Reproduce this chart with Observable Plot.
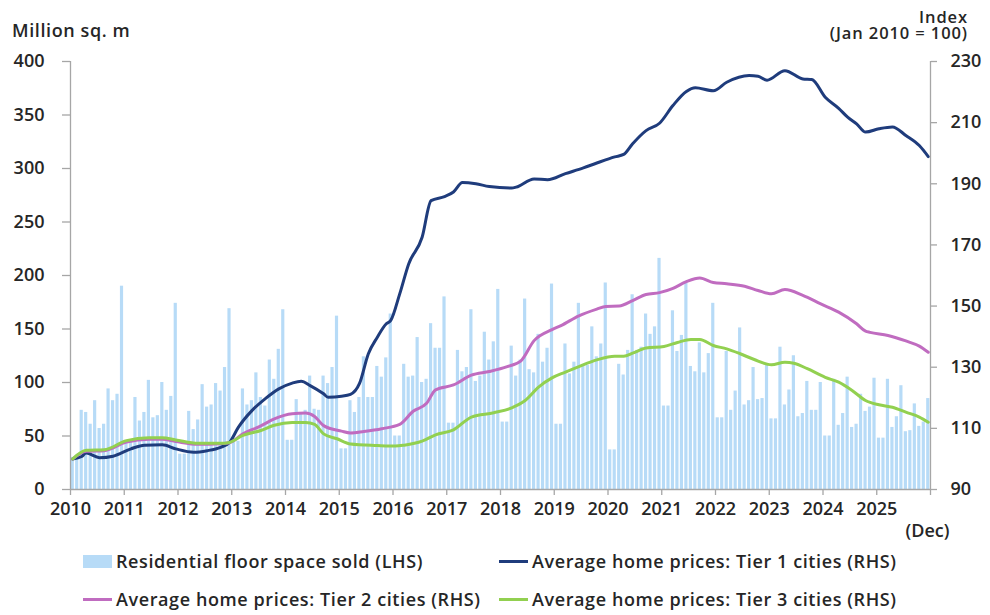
<!DOCTYPE html>
<html><head><meta charset="utf-8">
<script src="https://cdn.jsdelivr.net/npm/d3@7"></script>
<script src="https://cdn.jsdelivr.net/npm/@observablehq/plot@0.6"></script>
<style>
body{margin:0;background:#fff;font-family:"Open Sans",sans-serif;font-weight:600;color:#262626;}
#wrap{position:relative;width:990px;height:615px;overflow:hidden;}
.hdr{position:relative;height:44px;font-size:18px;letter-spacing:0.6px;}
#lhs{position:absolute;left:12px;top:18px;line-height:24px;}
#rhs{position:absolute;right:22px;top:9px;text-align:right;line-height:15.5px;white-space:pre;font-size:16.5px;letter-spacing:0.9px;}
#chart svg{display:block;}
.legend{position:relative;height:71px;font-size:18px;letter-spacing:0.6px;}
.item{position:absolute;display:flex;align-items:center;height:24px;white-space:nowrap;}
.sw{display:inline-block;width:29px;margin-right:4px;}
</style></head><body>
<div id="wrap">
  <div class="hdr">
    <div id="lhs">Million sq. m</div>
    <div id="rhs"></div>
  </div>
  <div id="chart"></div>
  <div class="legend" id="legend"></div>
</div>
<script>
// Residential floor space sold, million sq. m, monthly Jan..Dec
const sold2010 = [30,30,74,72,61,83,57,61,94,83,89,190];
const sold2011 = [45,45,86,64,72,102,67,69,100,74,87,174];
const sold2012 = [33,33,73,56,65,98,77,79,99,92,114,169];
const sold2013 = [45,45,94,79,83,109,86,78,121,103,131,168];
const sold2014 = [46,46,84,71,74,106,75,74,106,99,114,162];
const sold2015 = [38,38,83,72,86,124,86,86,115,105,123,164];
const sold2016 = [50,50,117,105,106,142,100,103,155,132,132,180];
const sold2017 = [62,62,130,110,114,168,101,106,147,121,138,187];
const sold2018 = [63,63,134,106,121,178,112,109,145,119,132,192];
const sold2019 = [61,61,136,108,119,174,116,116,152,124,136,193];
const sold2020 = [37,37,117,107,130,182,130,133,164,145,152,216];
const sold2021 = [78,78,167,129,144,194,115,110,137,109,127,174];
const sold2022 = [67,67,129,74,92,151,79,83,114,84,85,116];
const sold2023 = [66,66,133,79,93,125,68,71,101,74,74,100];
const sold2024 = [50,50,103,60,71,105,58,61,89,73,77,104];
const sold2025 = [48,48,103,58,68,97,54,55,80,59,63,85];

// Home price indices (Jan 2010 = 100): [month index from Jan 2010, value]
const tier1 = [[0,100],[2,100.8],[3,101.9],[6,100.4],[9,100.9],[13,103.3],[16,104.5],[20,104.6],[23,103.3],[27,102.2],[30,102.7],[33,103.8],[35,105.4],[37,110.4],[40,115.8],[43,119.7],[46,122.9],[49,124.8],[51,125.4],[53,124.0],[56,121.3],[57,120.2],[60,120.5],[62,121.1],[64,124.6],[66,134.4],[68,139.8],[70,144.2],[71,145.3],[73,154],[75,163.8],[78,172.5],[80,184.5],[83,185.8],[85,187.3],[87,190.4],[90,190],[93,189.1],[98,188.6],[99,188.9],[103,191.6],[106,191.3],[110,193.3],[114,195.2],[117,196.8],[121,198.8],[123,199.6],[125,203.1],[128,207.4],[131,209.8],[134,215.6],[137,220.2],[139,221.4],[143,220.4],[146,223.2],[151,225.4],[153,225.2],[155,223.9],[159,227],[163,224.3],[165,224.1],[168,218.3],[171,214.7],[173,211.8],[175,209.6],[177,206.9],[180,208],[183,208.6],[186,205.8],[189,202.5],[191,198.9]];
const tier2 = [[0,100],[3,102.5],[7,102.7],[12,105.5],[17,106.4],[20,106.4],[23,105.7],[28,104.8],[33,105.0],[35,105.3],[38,108.2],[42,110.8],[45,113.1],[49,114.8],[52,115.0],[54,113.9],[56,110.9],[60,109.1],[62,108.5],[65,109.0],[69,109.9],[73,111.3],[76,115.6],[79,118.2],[81,122.6],[85,124.2],[89,127.4],[93,128.6],[97,130.2],[100,132.0],[103,138.7],[107,142.3],[109,143.6],[113,146.8],[117,149.0],[119,149.9],[122,150.0],[125,151.8],[128,153.8],[131,154.4],[134,155.8],[137,158.0],[140,159.2],[143,157.7],[146,157.3],[150,156.5],[153,155.1],[156,154.0],[159,155.4],[163,153.5],[167,150.7],[171,148.0],[175,144.2],[177,141.8],[178,141.4],[182,140.4],[186,138.6],[189,136.9],[191,134.9]];
const tier3 = [[0,100],[3,102.8],[7,103.0],[12,106.0],[17,106.9],[20,106.9],[23,106.2],[28,105.1],[33,105.1],[35,105.4],[38,107.7],[42,109.3],[45,111.0],[49,111.9],[52,111.9],[54,111.3],[56,108.2],[59,106.6],[62,104.9],[68,104.4],[72,104.2],[74,104.5],[78,105.8],[81,107.9],[85,109.5],[89,113.7],[94,115.1],[98,116.7],[101,119.1],[104,123.5],[107,126.5],[110,128.4],[113,130.2],[117,132.4],[121,133.6],[123,133.6],[125,134.6],[128,136.3],[132,136.8],[135,138.1],[138,139.1],[140,139.1],[143,137.1],[146,136.0],[149,134.4],[152,132.6],[156,130.8],[159,131.6],[161,131.3],[164,129.5],[168,126.7],[171,125.1],[174,122.4],[177,119.1],[180,117.7],[183,116.9],[186,115.3],[189,113.7],[191,112.0]];

const yearLabels = ["2010","2011","2012","2013","2014","2015","2016","2017","2018","2019","2020","2021","2022","2023","2024","2025"];
const lhsTicks = [0,50,100,150,200,250,300,350,400];
const rhsTicks = [90,110,130,150,170,190,210,230];
const endLabel = "(Dec)";
const rhsTitle = "Index\n(Jan 2010 = 100)";

const seriesNames = ["Residential floor space sold (LHS)","Average home prices: Tier 1 cities (RHS)","Average home prices: Tier 2 cities (RHS)","Average home prices: Tier 3 cities (RHS)"];
const colors = ["#b7dbf7","#1f3c7c","#c06cc0","#92d050"];

document.getElementById("rhs").textContent = rhsTitle;

const sold = [sold2010,sold2011,sold2012,sold2013,sold2014,sold2015,sold2016,sold2017,sold2018,sold2019,sold2020,sold2021,sold2022,sold2023,sold2024,sold2025].flat();
const bars = sold.map((v,i)=>({i, v}));
const nMonths = sold.length;
const rMin = 90, rMax = 230, lMax = 400;
const toL = v => (v - rMin) * lMax / (rMax - rMin);
const fromL = v => v * (rMax - rMin) / lMax + rMin;
const axisGray = "#a6a6a6";
const textCol = "#262626";

const lineMark = (data, color) => Plot.line(data, {x: d => d[0] + 0.5, y: d => toL(d[1]), stroke: color, strokeWidth: 3, curve: "monotone-x", strokeLinejoin: "round"});

const chart = Plot.plot({
  width: 990, height: 500,
  marginLeft: 70, marginRight: 60, marginTop: 17, marginBottom: 55,
  style: {fontFamily: "'Open Sans', sans-serif", fontSize: "18px", fontWeight: 600, color: textCol, background: "#fff", overflow: "visible"},
  x: {domain: [0, nMonths], axis: null},
  y: {domain: [0, lMax], axis: null},
  marks: [
    Plot.rectY(bars, {x1: "i", x2: d => d.i + 1, y: "v", fill: colors[0], insetLeft: 0.65, insetRight: 0.65}),
    lineMark(tier1, colors[1]),
    lineMark(tier2, colors[2]),
    lineMark(tier3, colors[3]),
    Plot.ruleX([0, nMonths], {stroke: axisGray, strokeWidth: 1.3}),
    Plot.ruleY([0], {stroke: axisGray, strokeWidth: 1.3}),
    Plot.axisY(lhsTicks, {anchor: "left", tickSize: 8, tickPadding: 18, stroke: axisGray, fill: textCol, label: null, strokeWidth: 1.3}),
    Plot.axisY(rhsTicks.map(toL), {anchor: "right", tickSize: 6, tickPadding: 14, stroke: axisGray, fill: textCol, label: null, strokeWidth: 1.3, tickFormat: v => String(Math.round(fromL(v)))}),
    Plot.axisX(d3.range(0, nMonths + 1, 12), {anchor: "bottom", tickSize: 6, tickPadding: 7, stroke: axisGray, fill: textCol, label: null, strokeWidth: 1.3, tickFormat: i => yearLabels[i / 12] ?? ""}),
    Plot.axisX([nMonths], {anchor: "bottom", tickSize: 0, tickPadding: 35, fill: textCol, label: null, tickFormat: () => endLabel, dx: -3})
  ]
});
document.getElementById("chart").appendChild(chart);

const legend = document.getElementById("legend");
const pos = [[83, 5],[499, 5],[83, 43],[499, 43]];
seriesNames.forEach((name, k) => {
  const it = document.createElement("div");
  it.className = "item";
  it.style.left = pos[k][0] + "px";
  it.style.top = pos[k][1] + "px";
  const sw = document.createElement("span");
  sw.className = "sw";
  if (k === 0) { sw.style.height = "13px"; sw.style.background = colors[0]; }
  else { sw.style.height = "3px"; sw.style.background = colors[k]; }
  it.appendChild(sw);
  const t = document.createElement("span");
  t.textContent = name;
  it.appendChild(t);
  legend.appendChild(it);
});
</script>
</body></html>
